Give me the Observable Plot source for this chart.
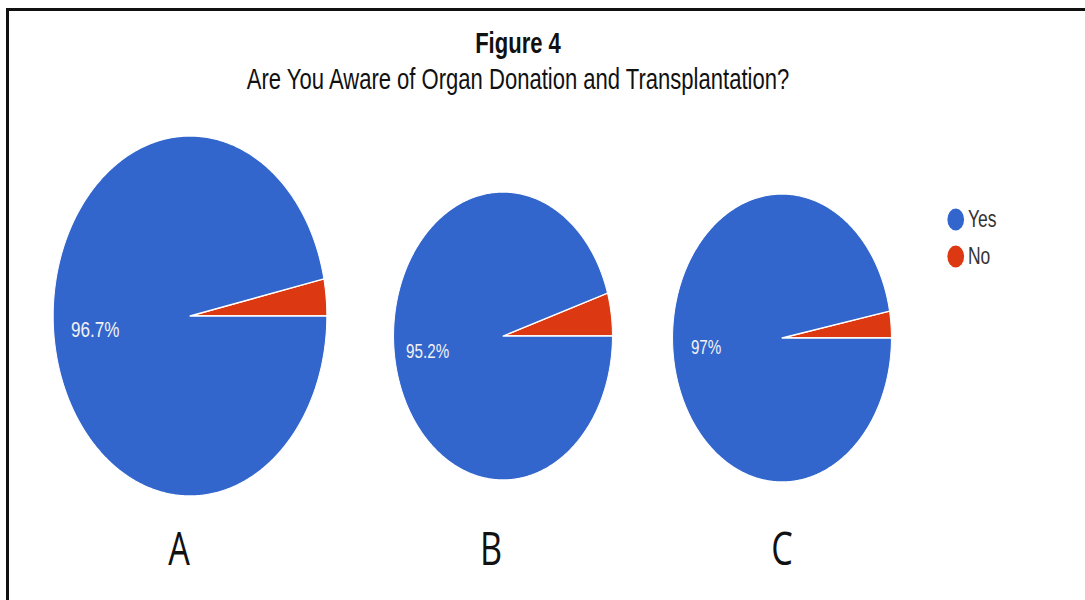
<!DOCTYPE html>
<html>
<head>
<meta charset="utf-8">
<script src="https://cdn.jsdelivr.net/npm/d3@7"></script>
<script src="https://cdn.jsdelivr.net/npm/@observablehq/plot@0.6"></script>
<style>
  html, body { margin: 0; padding: 0; background: #fff; }
  #root { position: relative; width: 1085px; height: 600px; overflow: hidden; font-family: Arial, "Liberation Sans", sans-serif; }
  .frame { position: absolute; left: 6px; top: 8px; width: 1085px; height: 600px; border-left: 3px solid #111; border-top: 3px solid #111; box-sizing: border-box; }
  .title, .subtitle { position: absolute; left: 0; width: 1036px; text-align: center; font-size: 29px; line-height: 29px; color: #111; transform: scaleX(0.76); transform-origin: 518px 0; white-space: nowrap; }
  .title { top: 28.5px; font-weight: bold; }
  .subtitle { top: 64.5px; }
  .pie { position: absolute; transform: scaleX(0.76); transform-origin: 50% 50%; }
  .legend { position: absolute; left: 947px; top: 199px; transform: scaleX(0.76); transform-origin: 0 0; }
  .glabel { position: absolute; width: 200px; text-align: center; font-family: "Open Sans", sans-serif; font-size: 45px; line-height: 45px; color: #111; transform: scaleX(0.76); transform-origin: 50% 0; }
</style>
</head>
<body>
<div id="root">
  <div class="frame"></div>
  <div class="title" id="title"></div>
  <div class="subtitle" id="subtitle"></div>
</div>
<script>
// ---- data ----
const titleText = "Figure 4";
const subtitleText = "Are You Aware of Organ Donation and Transplantation?";
const groups = ["A", "B", "C"];
const responses = ["Yes", "No"];
const yesPct = [96.7, 95.2, 97];
const noPct = [3.3, 4.8, 3];
const colors = ["#3366cc", "#dc3912"];

// ---- layout (pixels) ----
const pieLayout = [
  {cx: 190, cy: 316, r: 180, font: 22.5, labelX: 179},
  {cx: 503, cy: 336, r: 144, font: 20, labelX: 491},
  {cx: 782, cy: 338, r: 144, font: 20, labelX: 782}
];

const root = document.getElementById("root");
document.getElementById("title").textContent = titleText;
document.getElementById("subtitle").textContent = subtitleText;

function sliceRows(gi) {
  // counter-clockwise from 3 o'clock: "No" first, then "Yes"
  const shares = [
    {slice: "No", v: noPct[gi]},
    {slice: "Yes", v: yesPct[gi]}
  ];
  const total = d3.sum(shares, d => d.v);
  const rows = [];
  const labels = [];
  let a0 = 0;
  for (const s of shares) {
    const span = (s.v / total) * 2 * Math.PI;
    const n = Math.max(2, Math.ceil(span / (2 * Math.PI) * 720));
    for (let i = 0; i <= n; i++) {
      const t = a0 + span * i / n;
      rows.push({slice: s.slice, x1: Math.cos(t), y1: Math.sin(t), x2: 0, y2: 0});
    }
    if (s.v / total >= 0.05) {
      const m = a0 + span / 2;
      labels.push({slice: s.slice, x: 0.7 * Math.cos(m), y: 0.7 * Math.sin(m), text: `${+s.v.toFixed(1)}%`});
    }
    a0 += span;
  }
  return {rows, labels};
}

groups.forEach((g, gi) => {
  const L = pieLayout[gi];
  const {rows, labels} = sliceRows(gi);
  const size = 2 * L.r;
  const chart = Plot.plot({
    width: size,
    height: size,
    margin: 0,
    x: {domain: [-1, 1], axis: null},
    y: {domain: [-1, 1], axis: null},
    color: {domain: responses, range: colors},
    style: {fontFamily: "Arial, 'Liberation Sans', sans-serif", background: "transparent", overflow: "visible"},
    marks: [
      Plot.area(rows, {x1: "x1", y1: "y1", x2: "x2", y2: "y2", z: "slice", fill: "slice", stroke: "white", strokeWidth: 1.3, curve: "linear"}),
      Plot.text(labels, {x: "x", y: "y", text: "text", fill: "#f2f2f2", fontSize: L.font, textAnchor: "middle"})
    ]
  });
  const wrap = document.createElement("div");
  wrap.className = "pie";
  wrap.style.left = (L.cx - L.r) + "px";
  wrap.style.top = (L.cy - L.r) + "px";
  wrap.style.width = size + "px";
  wrap.style.height = size + "px";
  wrap.appendChild(chart);
  root.appendChild(wrap);

  const gl = document.createElement("div");
  gl.className = "glabel";
  gl.textContent = g;
  gl.style.left = (L.labelX - 100) + "px";
  gl.style.top = "525px";
  root.appendChild(gl);
});

// legend
const legend = Plot.plot({
  width: 100,
  height: 80,
  margin: 0,
  y: {type: "point", domain: responses, range: [20, 57.5], padding: 0, axis: null},
  color: {domain: responses, range: colors},
  style: {fontFamily: "Arial, 'Liberation Sans', sans-serif", background: "transparent", overflow: "visible"},
  marks: [
    Plot.dot(responses, {y: d => d, frameAnchor: "left", dx: 11, r: 11, fill: d => d, stroke: null}),
    Plot.text(responses, {y: d => d, text: d => d, frameAnchor: "left", dx: 27, textAnchor: "start", fontSize: 23, fill: "#333"})
  ]
});
const lw = document.createElement("div");
lw.className = "legend";
lw.appendChild(legend);
root.appendChild(lw);
</script>
</body>
</html>
